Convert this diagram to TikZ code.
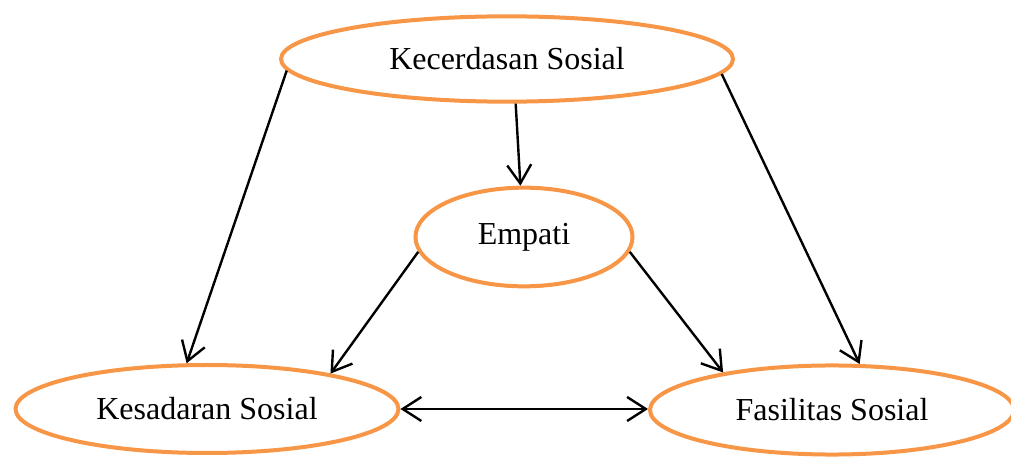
\documentclass[tikz,border=0pt]{standalone}
\usepackage{fontspec}
\setmainfont{Liberation Serif}
\usetikzlibrary{shapes.geometric,arrows.meta}
\definecolor{ellorange}{HTML}{F79646}
\begin{document}
\begin{tikzpicture}[x=0.375pt,y=-0.375pt,
  ell/.style={ellipse,draw=ellorange,line width=1.5pt,inner sep=0pt,font=\fontsize{12}{14}\selectfont},
  tip/.style={Straight Barb[length=7pt,width=9pt,line width=0.9pt]},
  conn/.style={line width=0.9pt,-{Straight Barb[length=7pt,width=9pt,line width=0.9pt]}},
  dconn/.style={line width=0.9pt,{Straight Barb[length=7pt,width=9pt,line width=0.9pt]}-{Straight Barb[length=7pt,width=9pt,line width=0.9pt]}}]
\useasboundingbox (0,0) rectangle (1011,459);
\node[ell,minimum width=169.5pt,minimum height=32pt] (K) at (507,59) {Kecerdasan Sosial};
\node[ell,minimum width=81.4pt,minimum height=37pt] (E) at (524,237) {Empati};
\node[ell,minimum width=143.6pt,minimum height=33pt] (S) at (207,409) {Kesadaran Sosial};
\node[ell,minimum width=136.5pt,minimum height=33.4pt] (F) at (832,410) {Fasilitas Sosial};
\draw[conn] (K.183.4) -- (S.114.1);
\draw[conn] (K.281.6) -- (E.94.3);
\draw[conn] (K.356.6) -- (F.59.7);
\draw[conn] (E.188) -- (S.16);
\draw[conn] (E.352) -- (F.161.7);
\draw[dconn] (S.east) -- (S.east -| F.west);
\end{tikzpicture}
\end{document}
